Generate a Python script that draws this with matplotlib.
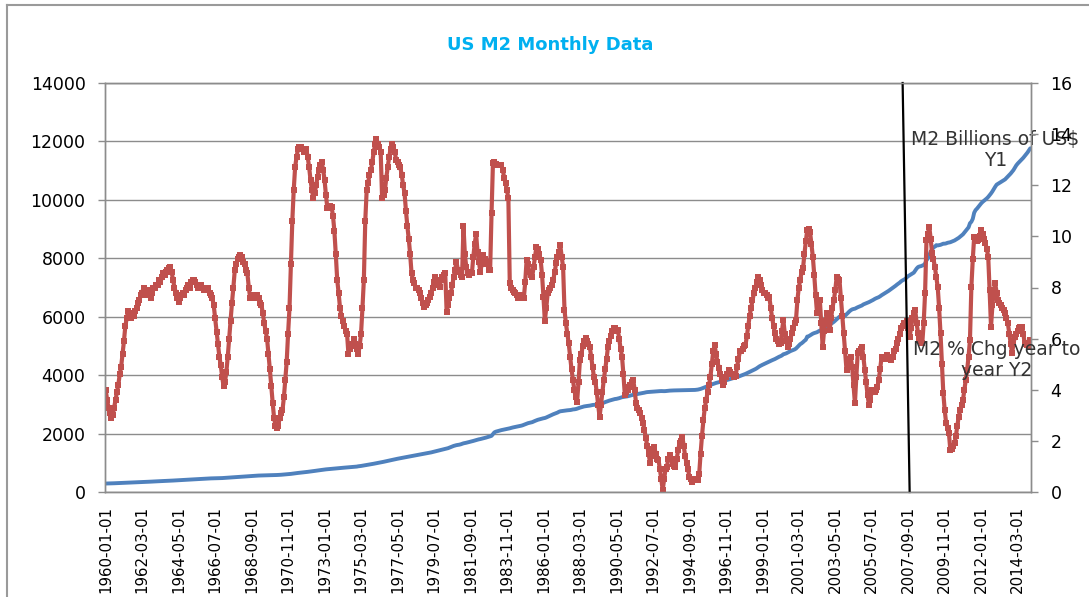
import matplotlib
matplotlib.use("Agg")
import matplotlib.pyplot as plt
from matplotlib.lines import Line2D
import numpy as np
import pandas as pd

# monthly categories of the chart
months = pd.date_range("1960-01-01", "2014-12-01", freq="MS")

# M2 money stock, billions of US$ (left axis), one row per year
m2_billions = [
    290, 291, 292, 293, 295, 297, 299, 301, 303, 305, 307, 309,              # 1960
    311, 313, 315, 317, 319, 321, 323, 325, 327, 329, 331, 333,              # 1961
    335, 337, 340, 342, 345, 347, 349, 352, 354, 357, 359, 362,              # 1962
    364, 366, 369, 371, 374, 377, 379, 381, 384, 386, 388, 390,              # 1963
    392, 395, 397, 400, 402, 405, 408, 411, 414, 416, 419, 422,              # 1964
    425, 428, 430, 433, 436, 439, 442, 445, 448, 451, 454, 457,              # 1965
    460, 462, 464, 466, 467, 468, 469, 470, 471, 473, 475, 477,              # 1966
    480, 483, 486, 489, 492, 496, 500, 504, 507, 511, 514, 517,              # 1967
    520, 523, 526, 529, 532, 535, 538, 542, 546, 550, 554, 558,              # 1968
    561, 563, 565, 567, 569, 570, 571, 572, 573, 574, 576, 578,              # 1969
    580, 581, 582, 584, 587, 590, 594, 598, 602, 606, 610, 614,              # 1970
    620, 627, 634, 641, 647, 652, 657, 662, 667, 672, 678, 684,              # 1971
    690, 697, 704, 710, 716, 722, 728, 735, 742, 749, 756, 763,              # 1972
    770, 775, 779, 783, 788, 793, 798, 802, 806, 811, 816, 820,              # 1973
    825, 829, 833, 837, 841, 845, 849, 853, 857, 861, 866, 870,              # 1974
    880, 885, 892, 900, 909, 918, 927, 935, 943, 951, 959, 967,              # 1975
    976, 986, 996, 1006, 1015, 1024, 1033, 1043, 1053, 1064, 1075, 1086,     # 1976
    1097, 1108, 1118, 1128, 1138, 1148, 1157, 1166, 1175, 1184, 1193, 1202,  # 1977
    1211, 1219, 1228, 1237, 1246, 1255, 1264, 1273, 1283, 1292, 1300, 1308,  # 1978
    1316, 1325, 1335, 1346, 1356, 1368, 1381, 1393, 1404, 1416, 1428, 1440,  # 1979
    1450, 1465, 1478, 1485, 1500, 1520, 1540, 1560, 1577, 1592, 1604, 1612,  # 1980
    1620, 1632, 1648, 1666, 1675, 1686, 1698, 1712, 1722, 1733, 1748, 1763,  # 1981
    1780, 1790, 1803, 1812, 1826, 1837, 1848, 1862, 1876, 1890, 1906, 1922,  # 1982
    1980, 2040, 2064, 2078, 2092, 2106, 2118, 2128, 2138, 2149, 2160, 2170,  # 1983
    2180, 2194, 2207, 2218, 2229, 2238, 2247, 2256, 2268, 2281, 2300, 2322,  # 1984
    2340, 2356, 2368, 2377, 2391, 2414, 2434, 2454, 2472, 2484, 2498, 2512,  # 1985
    2524, 2533, 2551, 2574, 2599, 2617, 2640, 2662, 2681, 2700, 2718, 2745,  # 1986
    2763, 2770, 2776, 2787, 2793, 2796, 2800, 2805, 2813, 2826, 2830, 2838,  # 1987
    2852, 2871, 2887, 2902, 2916, 2929, 2938, 2944, 2950, 2957, 2968, 2978,  # 1988
    2983, 2985, 2993, 3001, 3003, 3016, 3037, 3059, 3077, 3095, 3114, 3129,  # 1989
    3143, 3159, 3172, 3183, 3188, 3200, 3212, 3229, 3245, 3252, 3258, 3266,  # 1990
    3276, 3290, 3305, 3316, 3327, 3336, 3345, 3352, 3360, 3370, 3380, 3390,  # 1991
    3400, 3412, 3420, 3424, 3428, 3430, 3434, 3438, 3442, 3447, 3450, 3453,  # 1992
    3455, 3453, 3452, 3454, 3460, 3466, 3470, 3473, 3475, 3477, 3478, 3479,  # 1993
    3480, 3482, 3484, 3486, 3487, 3486, 3487, 3488, 3490, 3490, 3491, 3492,  # 1994
    3494, 3498, 3505, 3515, 3528, 3545, 3565, 3585, 3605, 3625, 3645, 3665,  # 1995
    3682, 3700, 3718, 3733, 3745, 3757, 3770, 3782, 3795, 3808, 3822, 3836,  # 1996
    3850, 3864, 3878, 3893, 3905, 3918, 3933, 3950, 3968, 3987, 4005, 4023,  # 1997
    4043, 4066, 4090, 4116, 4138, 4160, 4182, 4206, 4234, 4270, 4302, 4328,  # 1998
    4352, 4375, 4395, 4425, 4447, 4468, 4490, 4511, 4530, 4552, 4578, 4605,  # 1999
    4630, 4650, 4675, 4715, 4728, 4745, 4768, 4795, 4822, 4840, 4858, 4880,  # 2000
    4910, 4960, 5010, 5060, 5090, 5130, 5175, 5210, 5320, 5330, 5360, 5390,  # 2001
    5420, 5440, 5455, 5470, 5500, 5525, 5550, 5590, 5615, 5640, 5670, 5700,  # 2002
    5730, 5760, 5790, 5825, 5870, 5920, 5960, 6000, 6015, 6020, 6025, 6035,  # 2003
    6080, 6130, 6180, 6220, 6250, 6265, 6275, 6300, 6325, 6345, 6365, 6385,  # 2004
    6420, 6440, 6460, 6480, 6500, 6525, 6550, 6575, 6605, 6630, 6650, 6670,  # 2005
    6700, 6735, 6765, 6795, 6825, 6855, 6885, 6920, 6955, 6990, 7025, 7060,  # 2006
    7100, 7135, 7170, 7215, 7245, 7270, 7300, 7350, 7390, 7420, 7450, 7480,  # 2007
    7510, 7580, 7650, 7700, 7720, 7730, 7750, 7770, 7820, 7930, 8000, 8100,  # 2008
    8230, 8300, 8370, 8400, 8450, 8440, 8450, 8460, 8480, 8500, 8500, 8510,  # 2009
    8530, 8540, 8550, 8570, 8590, 8610, 8640, 8670, 8700, 8740, 8780, 8820,  # 2010
    8880, 8940, 9000, 9060, 9200, 9250, 9350, 9560, 9650, 9700, 9760, 9820,  # 2011
    9880, 9930, 9970, 10010, 10050, 10100, 10160, 10220, 10290, 10370, 10450, 10520,   # 2012
    10550, 10580, 10610, 10640, 10670, 10700, 10750, 10800, 10850, 10900, 10960, 11020,  # 2013
    11100, 11180, 11240, 11290, 11340, 11390, 11440, 11500, 11560, 11620, 11690, 11765,  # 2014
]

# M2 % change year to year (right axis)
m2_pct_chg = [
    4.0, 3.6, 3.3, 3.1, 2.9, 3.0, 3.3, 3.6, 3.9, 4.2, 4.6, 4.9,              # 1960
    5.4, 5.9, 6.5, 6.8, 7.1, 7.0, 6.8, 7.0, 6.9, 7.1, 7.2, 7.4,              # 1961
    7.5, 7.7, 7.8, 8.0, 7.8, 7.7, 7.8, 7.9, 7.6, 7.8, 8.0, 8.0,              # 1962
    8.1, 8.1, 8.3, 8.2, 8.4, 8.55, 8.5, 8.6, 8.7, 8.75, 8.8, 8.6,            # 1963
    8.3, 8.0, 7.8, 7.6, 7.44, 7.6, 7.7, 7.8, 7.7, 7.9, 7.97, 8.1,            # 1964
    8.0, 8.2, 8.3, 8.3, 8.2, 8.1, 8.0, 8.1, 8.1, 8.0, 7.9, 8.0,              # 1965
    7.9, 8.0, 7.8, 7.7, 7.58, 7.3, 6.8, 6.27, 5.8, 5.3, 4.96, 4.5,           # 1966
    4.15, 4.3, 4.7, 5.3, 6.0, 6.7, 7.4, 8.0, 8.68, 8.9, 9.1, 9.2,            # 1967
    9.27, 9.2, 9.0, 8.9, 8.7, 8.55, 8.0, 7.58, 7.6, 7.7, 7.7, 7.6,           # 1968
    7.7, 7.6, 7.4, 7.3, 7.0, 6.6, 6.3, 6.0, 5.4, 4.8, 4.13, 3.5,             # 1969
    2.9, 2.6, 2.5, 2.6, 2.9, 3.1, 3.2, 3.7, 4.4, 5.1, 6.2, 7.2,              # 1970
    8.9, 10.6, 11.8, 12.7, 13.1, 13.4, 13.5, 13.5, 13.4, 13.3, 13.4, 13.4,   # 1971
    13.1, 12.7, 12.2, 11.8, 11.5, 11.7, 12.0, 12.34, 12.6, 12.8, 12.9, 12.6, # 1972
    12.2, 11.6, 11.1, 11.1, 11.2, 11.16, 10.8, 10.2, 9.3, 8.3, 7.8, 7.2,     # 1973
    6.9, 6.7, 6.5, 6.3, 6.2, 5.4, 5.6, 5.8, 5.7, 6.0, 5.8, 5.6,              # 1974
    5.4, 5.7, 6.2, 7.2, 8.3, 10.6, 11.8, 12.1, 12.4, 12.6, 12.9, 13.3,       # 1975
    13.6, 13.8, 13.6, 13.5, 13.3, 11.5, 11.6, 11.8, 12.3, 12.7, 13.1, 13.4,  # 1976
    13.6, 13.5, 13.3, 13.0, 12.9, 12.8, 12.7, 12.4, 12.0, 11.7, 11.0, 10.4,  # 1977
    9.9, 9.3, 8.55, 8.3, 8.16, 8.0, 7.97, 7.9, 7.77, 7.6, 7.4, 7.25,         # 1978
    7.3, 7.4, 7.5, 7.64, 7.8, 8.0, 8.2, 8.42, 8.2, 8.1, 8.03, 8.3,           # 1979
    8.4, 8.5, 8.55, 7.05, 7.3, 7.6, 7.77, 8.1, 8.4, 8.7, 9.0, 8.7,           # 1980
    8.6, 8.5, 8.42, 10.4, 9.3, 8.8, 8.55, 8.5, 8.6, 8.55, 9.2, 9.7,          # 1981
    10.1, 9.4, 9.0, 8.62, 8.9, 9.27, 9.1, 9.0, 8.9, 8.7, 8.68, 10.9,         # 1982
    12.86, 12.9, 12.85, 12.8, 12.8, 12.8, 12.8, 12.6, 12.3, 12.08, 11.8, 11.5,  # 1983
    8.16, 8.0, 7.9, 7.84, 7.8, 7.7, 7.6, 7.58, 7.7, 7.6, 7.58, 8.2,          # 1984
    9.08, 8.9, 8.6, 8.5, 8.42, 8.8, 9.2, 9.6, 9.5, 9.3, 9.08, 8.5,           # 1985
    7.64, 6.7, 7.2, 7.77, 7.9, 8.0, 8.1, 8.29, 8.6, 8.94, 9.2, 9.4,          # 1986
    9.66, 9.2, 8.81, 7.12, 6.6, 6.2, 5.82, 5.3, 4.8, 4.39, 4.0, 3.7,         # 1987
    3.54, 4.3, 5.17, 5.4, 5.7, 5.9, 6.03, 5.9, 5.8, 5.69, 5.3, 4.9,          # 1988
    4.5, 4.32, 3.9, 3.4, 2.95, 3.4, 3.9, 4.39, 4.8, 5.2, 5.69, 5.9,          # 1989
    6.1, 6.3, 6.41, 6.4, 6.3, 6.34, 6.0, 5.6, 5.3, 4.6, 3.8, 3.9,            # 1990
    4.0, 4.1, 4.2, 4.3, 4.39, 4.0, 3.47, 3.3, 3.2, 3.08, 2.9, 2.7,           # 1991
    2.43, 2.1, 1.8, 1.5, 1.12, 1.4, 1.7, 1.77, 1.5, 1.3, 1.25, 0.9,          # 1992
    0.5, 0.08, 0.5, 0.9, 0.99, 1.3, 1.45, 1.3, 1.1, 1.0, 0.99, 1.3,          # 1993
    1.64, 1.9, 2.0, 2.16, 1.8, 1.4, 1.12, 0.9, 0.6, 0.5, 0.4, 0.45,          # 1994
    0.5, 0.45, 0.47, 0.7, 1.5, 2.2, 2.8, 3.3, 3.6, 3.9, 4.2, 4.5,            # 1995
    5.0, 5.5, 5.75, 5.4, 5.1, 4.85, 4.6, 4.4, 4.2, 4.3, 4.5, 4.6,            # 1996
    4.78, 4.7, 4.6, 4.6, 4.5, 4.55, 4.9, 5.2, 5.5, 5.5, 5.6, 5.7,            # 1997
    5.75, 6.1, 6.5, 6.9, 7.2, 7.5, 7.77, 8.0, 8.2, 8.42, 8.3, 8.1,           # 1998
    7.9, 7.8, 7.77, 7.7, 7.6, 7.64, 7.2, 6.8, 6.5, 6.21, 6.0, 5.9,           # 1999
    5.8, 5.82, 6.3, 6.73, 6.2, 5.9, 5.69, 5.8, 6.0, 6.21, 6.4, 6.6,          # 2000
    6.73, 7.5, 8.0, 8.29, 8.6, 8.75, 9.3, 9.8, 10.25, 10.3, 10.18, 9.7,      # 2001
    9.21, 8.5, 7.7, 6.99, 7.3, 7.51, 6.6, 5.69, 6.3, 6.7, 6.99, 6.6,         # 2002
    6.34, 6.8, 7.2, 7.51, 7.9, 8.42, 8.35, 8.29, 7.6, 6.9, 6.21, 5.5,        # 2003
    4.78, 5.0, 5.2, 5.3, 4.9, 4.2, 3.47, 4.5, 5.43, 5.5, 5.6, 5.69,          # 2004
    5.3, 4.78, 4.3, 3.8, 3.41, 3.6, 4.0, 4.0, 3.9, 4.0, 4.1, 4.4,            # 2005
    4.8, 5.3, 5.3, 5.2, 5.3, 5.37, 5.3, 5.2, 5.17, 5.3, 5.5, 5.6,            # 2006
    5.82, 6.0, 6.2, 6.41, 6.5, 6.6, 6.6, 6.67, 6.4, 6.08, 6.4, 6.8,          # 2007
    7.0, 7.12, 6.6, 6.21, 6.0, 5.9, 5.82, 6.6, 7.77, 9.86, 10.1, 10.38,      # 2008
    9.9, 9.34, 9.1, 8.81, 8.4, 8.03, 7.2, 6.21, 5.0, 3.87, 3.2, 2.7,         # 2009
    2.5, 2.3, 1.64, 1.7, 1.8, 1.9, 2.2, 2.6, 2.95, 3.2, 3.4, 3.6,            # 2010
    4.0, 4.4, 4.78, 5.3, 5.95, 8.03, 9.1, 9.99, 9.9, 9.8, 9.86, 10.0,        # 2011
    10.25, 10.1, 9.9, 9.73, 9.5, 9.21, 7.9, 6.47, 7.3, 7.9, 8.16, 7.8,       # 2012
    7.51, 7.4, 7.3, 7.2, 7.12, 7.0, 6.8, 6.6, 6.2, 5.8, 5.43, 5.8,           # 2013
    6.08, 6.2, 6.3, 6.41, 6.45, 6.47, 6.2, 5.82, 5.8, 5.75, 5.69, 5.95,      # 2014
]

series_names = ["M2 Billions of US$\nY1", "M2 % Chg year to\nyear Y2"]
tick_every = 26                                  # label every 26th month
divider_dates = ["2007-05-01", "2007-10-01"]     # hand drawn black line
divider_y2 = [16, 0]

assert len(m2_billions) == len(months) and len(m2_pct_chg) == len(months)

x = np.arange(len(months))
div_x = [months.get_loc(pd.Timestamp(d)) for d in divider_dates]

W, H = 1089, 597
fig = plt.figure(figsize=(W / 100, H / 100), dpi=100)
# plot area in pixels: left 105, right 1031, top 83, bottom 492
ax = fig.add_axes([105 / W, 1 - 492 / H, (1031 - 105) / W, (492 - 83) / H])
ax2 = ax.twinx()

grey = "#8c8c8c"

# left axis - M2 level
ax.plot(x, m2_billions, color="#4F81BD", lw=2.8, solid_capstyle="round")
ax.set_ylim(0, 14000)
ax.set_yticks(np.arange(0, 14001, 2000))
ax.yaxis.grid(True, color=grey, lw=1.0)
ax.set_axisbelow(True)
ax.set_xlim(-0.5, len(months) - 0.5)
ax.set_xticks(x[::tick_every])
ax.set_xticklabels([d.strftime("%Y-%m-%d") for d in months[::tick_every]], rotation=90, fontsize=10.8)
ax.tick_params(axis="x", length=0, pad=10)
ax.tick_params(axis="y", labelsize=12.5, length=5, width=1, color=grey, pad=9)

# right axis - % change
ax2.plot(x, m2_pct_chg, color="#C0504D", lw=3.0, marker="s", ms=4.0, mew=0)
ax2.set_ylim(0, 16)
ax2.set_yticks(np.arange(0, 17, 2))
ax2.tick_params(axis="y", labelsize=12.5, length=5, width=1, color=grey, pad=9)
ax2.set_xlim(-0.5, len(months) - 0.5)

# black divider line
ax2.plot(div_x, divider_y2, color="black", lw=1.6, clip_on=False)

for a in (ax, ax2):
    for s in a.spines.values():
        s.set_color(grey)
        s.set_linewidth(1.0)

# series name labels next to the last points
ax.annotate(series_names[0], xy=(x[-1], m2_billions[-1]), xytext=(-35, -2),
            textcoords="offset pixels", ha="center", va="center",
            multialignment="center", fontsize=13.5, color="#333333", linespacing=1.15)
ax2.annotate(series_names[1], xy=(x[-1], m2_pct_chg[-1]), xytext=(-34, -20),
             textcoords="offset pixels", ha="center", va="center",
             multialignment="center", fontsize=13.5, color="#333333", linespacing=1.15)

fig.text(550 / W, 1 - 45 / H, "US M2 Monthly Data", ha="center", va="center",
         fontsize=13, fontweight="bold", color="#00B0F0")

# chart area frame (left and top edges visible)
fig.add_artist(Line2D([7 / W, 7 / W], [0, 1 - 5 / H], color="#9a9a9a", lw=1.5))
fig.add_artist(Line2D([7 / W, 1], [1 - 5 / H, 1 - 5 / H], color="#9a9a9a", lw=1.5))

fig.savefig("out.png", dpi=100)
